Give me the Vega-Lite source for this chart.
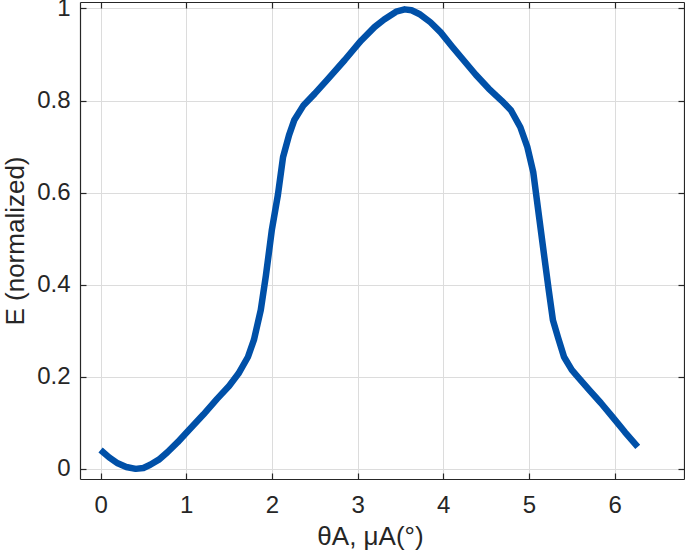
{
  "$schema": "https://vega.github.io/schema/vega-lite/v6.json",
  "width": 604,
  "height": 477,
  "autosize": "none",
  "padding": {"left": 80, "top": 2, "right": 1, "bottom": 79},
  "background": "white",
  "config": {
    "font": "Liberation Sans",
    "view": {"stroke": null},
    "axis": {
      "domainColor": "#262626",
      "domainWidth": 1.2,
      "tickColor": "#262626",
      "tickWidth": 1.2,
      "labelColor": "#262626",
      "titleColor": "#262626",
      "labelFont": "Liberation Sans",
      "titleFont": "Liberation Sans",
      "labelFontSize": 24,
      "titleFontSize": 26,
      "titleFontWeight": "normal",
      "gridColor": "#dcdcdc",
      "gridWidth": 1
    }
  },
  "data": {
    "values": [
      {"x": 0.0, "y": 0.041},
      {"x": 0.1, "y": 0.025},
      {"x": 0.2, "y": 0.012},
      {"x": 0.3, "y": 0.004},
      {"x": 0.41, "y": 0.0},
      {"x": 0.5, "y": 0.002},
      {"x": 0.58, "y": 0.009},
      {"x": 0.68, "y": 0.02},
      {"x": 0.78, "y": 0.036},
      {"x": 0.9, "y": 0.058},
      {"x": 1.01, "y": 0.08},
      {"x": 1.2, "y": 0.118},
      {"x": 1.36, "y": 0.152},
      {"x": 1.5, "y": 0.18},
      {"x": 1.61, "y": 0.207},
      {"x": 1.72, "y": 0.243},
      {"x": 1.79, "y": 0.28},
      {"x": 1.87, "y": 0.345},
      {"x": 1.93, "y": 0.42},
      {"x": 2.0, "y": 0.52},
      {"x": 2.07, "y": 0.595},
      {"x": 2.13, "y": 0.677},
      {"x": 2.2, "y": 0.725},
      {"x": 2.26, "y": 0.757},
      {"x": 2.37, "y": 0.79},
      {"x": 2.5, "y": 0.815},
      {"x": 2.65, "y": 0.846},
      {"x": 2.85, "y": 0.888},
      {"x": 3.04, "y": 0.93},
      {"x": 3.2, "y": 0.96},
      {"x": 3.31, "y": 0.976},
      {"x": 3.45, "y": 0.993},
      {"x": 3.55, "y": 0.998},
      {"x": 3.63, "y": 0.996},
      {"x": 3.72, "y": 0.988},
      {"x": 3.85, "y": 0.97},
      {"x": 3.97, "y": 0.948},
      {"x": 4.1, "y": 0.918},
      {"x": 4.24, "y": 0.887},
      {"x": 4.38, "y": 0.856},
      {"x": 4.53, "y": 0.826},
      {"x": 4.68, "y": 0.8},
      {"x": 4.79, "y": 0.779},
      {"x": 4.9, "y": 0.742},
      {"x": 4.98, "y": 0.7},
      {"x": 5.05, "y": 0.645},
      {"x": 5.12, "y": 0.545},
      {"x": 5.18, "y": 0.46},
      {"x": 5.23, "y": 0.39},
      {"x": 5.28, "y": 0.323},
      {"x": 5.34, "y": 0.285},
      {"x": 5.41, "y": 0.243},
      {"x": 5.5, "y": 0.215},
      {"x": 5.57, "y": 0.2},
      {"x": 5.7, "y": 0.172},
      {"x": 5.84, "y": 0.143},
      {"x": 5.98, "y": 0.112},
      {"x": 6.12, "y": 0.08},
      {"x": 6.27, "y": 0.048}
    ]
  },
  "layer": [
    {
      "mark": {"type": "line", "color": "#0050A8", "strokeWidth": 6.5, "strokeJoin": "round"},
      "encoding": {
        "x": {
          "field": "x", "type": "quantitative",
          "scale": {"domain": [-0.24, 6.81], "nice": false, "zero": false},
          "axis": {"values": [0, 1, 2, 3, 4, 5, 6], "tickSize": -6, "labelPadding": 20, "title": "θA, μA(°)", "titlePadding": 6, "titleX": 290, "grid": true}
        },
        "y": {
          "field": "y", "type": "quantitative",
          "scale": {"domain": [-0.022, 1.014], "nice": false, "zero": false},
          "axis": {"values": [0, 0.2, 0.4, 0.6, 0.8, 1], "format": "~g", "tickSize": -6, "labelPadding": 16, "title": "E (normalized)", "titlePadding": 8, "grid": true}
        }
      }
    },
    {
      "mark": {"type": "line", "opacity": 0},
      "encoding": {
        "x": {
          "field": "x", "type": "quantitative",
          "axis": {"orient": "top", "values": [0, 1, 2, 3, 4, 5, 6], "tickSize": -6, "labels": false, "title": null, "grid": false}
        },
        "y": {
          "field": "y", "type": "quantitative",
          "axis": {"orient": "right", "values": [0, 0.2, 0.4, 0.6, 0.8, 1], "tickSize": -6, "labels": false, "title": null, "grid": false}
        }
      }
    }
  ],
  "resolve": {"axis": {"x": "independent", "y": "independent"}}
}
